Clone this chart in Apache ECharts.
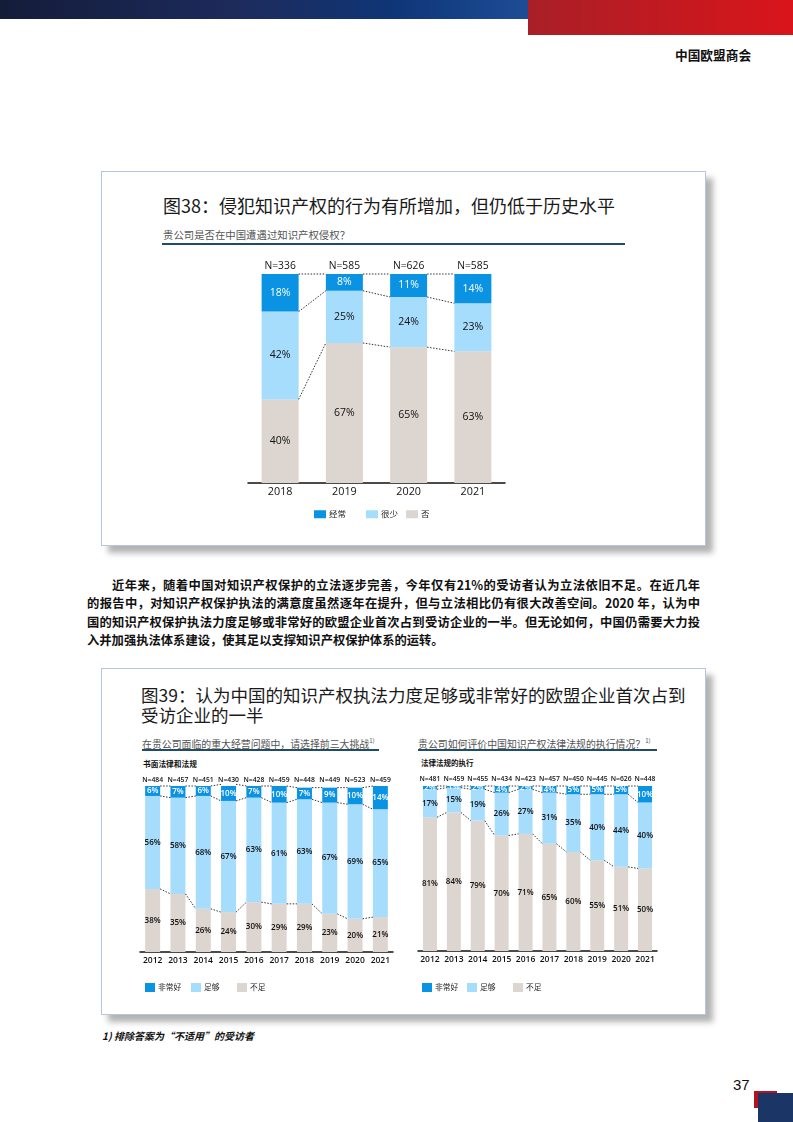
<!DOCTYPE html>
<html><head><meta charset="utf-8">
<script src="https://cdn.jsdelivr.net/npm/echarts@6/dist/echarts.min.js"></script>
<style>
html,body{margin:0;padding:0;background:#fff;}
#page{position:relative;width:793px;height:1122px;overflow:hidden;font-family:"Noto Sans CJK SC",sans-serif;color:#111;}
.abs{position:absolute;white-space:nowrap;}
#chart{position:absolute;left:0;top:0;width:793px;height:1122px;z-index:5;}
.panel{position:absolute;box-sizing:border-box;background:#fff;border:1px solid #b7c5dd;box-shadow:7px 7px 6px rgba(0,0,0,0.30);}
.para{position:absolute;left:87px;width:613px;font-size:12.3px;font-weight:700;line-height:18.3px;text-align:justify;text-align-last:justify;color:#111;}
sup{font-size:6px;vertical-align:5px;}
</style></head>
<body>
<div id="page">
  <div class="abs" style="left:0;top:0;width:528px;height:19px;background:linear-gradient(to right,#141c3a 0%,#1d2b5c 45%,#0f3677 75%,#1d4c96 100%);"></div>
  <div class="abs" style="left:528px;top:0;width:265px;height:35px;background:linear-gradient(to right,#a91f27,#d9151b);"></div>
  <div class="abs" style="left:675px;top:46px;font-size:12.7px;font-weight:700;line-height:18px;">中国欧盟商会</div>

  <div class="panel" style="left:101px;top:171px;width:605px;height:375px;"></div>
  <div class="abs" style="left:163px;top:193px;font-size:18px;line-height:24px;color:#1a1a1a;">图38：侵犯知识产权的行为有所增加，但仍低于历史水平</div>
  <div class="abs" style="left:163px;top:228px;font-size:10.4px;line-height:14px;color:#555;">贵公司是否在中国遭遇过知识产权侵权？</div>
  <div class="abs" style="left:162px;top:243px;width:463px;height:2px;background:#1f4c66;"></div>

  <div class="para" style="top:576px;text-indent:25px;">近年来，随着中国对知识产权保护的立法逐步完善，今年仅有21%的受访者认为立法依旧不足。在近几年</div>
  <div class="para" style="top:594.3px;">的报告中，对知识产权保护执法的满意度虽然逐年在提升，但与立法相比仍有很大改善空间。2020 年，认为中</div>
  <div class="para" style="top:612.6px;">国的知识产权保护执法力度足够或非常好的欧盟企业首次占到受访企业的一半。但无论如何，中国仍需要大力投</div>
  <div class="para" style="top:630.9px;text-align-last:left;">入并加强执法体系建设，使其足以支撑知识产权保护体系的运转。</div>

  <div class="panel" style="left:101px;top:668px;width:605px;height:347px;"></div>
  <div class="abs" style="left:141px;top:685px;font-size:17.5px;line-height:20px;color:#1a1a1a;">图39：认为中国的知识产权执法力度足够或非常好的欧盟企业首次占到<br>受访企业的一半</div>
  <div class="abs" style="left:142px;top:734px;font-size:9.9px;line-height:13px;color:#555;">在贵公司面临的重大经营问题中，请选择前三大挑战<sup>1)</sup></div>
  <div class="abs" style="left:142px;top:749px;width:237px;height:1.5px;background:#1f4c66;"></div>
  <div class="abs" style="left:418px;top:734px;font-size:9.9px;line-height:13px;color:#555;">贵公司如何评价中国知识产权法律法规的执行情况？<sup>1)</sup></div>
  <div class="abs" style="left:418px;top:749px;width:239px;height:1.5px;background:#1f4c66;"></div>
  <div class="abs" style="left:143px;top:758px;font-size:7.7px;line-height:12px;font-weight:700;">书面法律和法规</div>
  <div class="abs" style="left:421px;top:757px;font-size:7.5px;line-height:12px;font-weight:700;">法律法规的执行</div>

  <div class="abs" style="left:102px;top:1029px;font-size:10px;line-height:14px;font-weight:700;font-style:italic;">1) 排除答案为“不适用”的受访者</div>

  <div class="abs" style="left:733px;top:1076px;font-family:'Liberation Sans',Arial,sans-serif;font-size:15px;line-height:18px;color:#111;">37</div>
  <div class="abs" style="left:754px;top:1091px;width:23px;height:17px;background:#b3141c;"></div>
  <div class="abs" style="left:758px;top:1093px;width:35px;height:29px;background:#1b3566;"></div>

  <div id="chart"></div>
</div>
<script>
// ---------- Data ----------
const years38 = ['2018', '2019', '2020', '2021'];
const n38 = ['N=336', 'N=585', 'N=626', 'N=585'];
const often38 = [18, 8, 11, 14];     // 经常
const rarely38 = [42, 25, 24, 23];   // 很少
const never38 = [40, 67, 65, 63];    // 否

const years39 = ['2012', '2013', '2014', '2015', '2016', '2017', '2018', '2019', '2020', '2021'];
// 书面法律和法规
const nLaw = ['N=484', 'N=457', 'N=451', 'N=430', 'N=428', 'N=459', 'N=448', 'N=449', 'N=523', 'N=459'];
const veryGoodLaw = [6, 7, 6, 10, 7, 10, 7, 9, 10, 14];
const enoughLaw = [56, 58, 68, 67, 63, 61, 63, 67, 69, 65];
const lackLaw = [38, 35, 26, 24, 30, 29, 29, 23, 20, 21];
// 法律法规的执行
const nEnf = ['N=481', 'N=459', 'N=455', 'N=434', 'N=423', 'N=457', 'N=450', 'N=445', 'N=626', 'N=448'];
const veryGoodEnf = [2, 1, 2, 4, 2, 4, 5, 5, 5, 10];
const enoughEnf = [17, 15, 19, 26, 27, 31, 35, 40, 44, 40];
const lackEnf = [81, 84, 79, 70, 71, 65, 60, 55, 51, 50];

// ---------- Style ----------
const FONT = '"Open Sans","Noto Sans CJK SC",sans-serif';
const C_DARK = '#0a92e3', C_LIGHT = '#a6dcfc', C_BEIGE = '#ddd5cf';

function bars(name, data, color, gi, labelColor, fs, bw, fw) {
  return {
    name, type: 'bar', stack: 'g' + gi, xAxisIndex: gi * 2, yAxisIndex: gi,
    data, barWidth: bw, itemStyle: { color }, emphasis: { disabled: true }, z: 2,
    label: { show: true, position: 'inside', formatter: p => p.value + '%', color: labelColor,
      fontSize: fs, fontFamily: FONT, fontWeight: fw }
  };
}
function connectors(gi, bottom, mid, top, bw) {
  const levels = bottom.map((b, i) => [b, b + mid[i], b + mid[i] + top[i]]);
  return {
    type: 'custom', xAxisIndex: gi * 2, yAxisIndex: gi, silent: true, z: 3,
    data: bottom.map((b, i) => [i, 0]),
    renderItem(params, api) {
      const i = params.dataIndex;
      const children = [];
      if (i < levels.length - 1) {
        for (let k = 0; k < 3; k++) {
          const p1 = api.coord([i, levels[i][k]]);
          const p2 = api.coord([i + 1, levels[i + 1][k]]);
          children.push({ type: 'line', shape: { x1: p1[0] + bw / 2, y1: p1[1], x2: p2[0] - bw / 2, y2: p2[1] },
            style: { stroke: '#333', lineWidth: 1, lineDash: [1.5, 1.5] } });
        }
      }
      return { type: 'group', children };
    }
  };
}
function xAxes(gi, cats, nLabels, fsYear, fsN, mYear, mN, fwYear, fwN) {
  return [
    { type: 'category', gridIndex: gi, data: cats, position: 'bottom',
      axisLine: { lineStyle: { color: '#111', width: 1.5 } }, axisTick: { show: false },
      axisLabel: { interval: 0, hideOverlap: false, fontSize: fsYear, color: '#111', margin: mYear, fontFamily: FONT, fontWeight: fwYear } },
    { type: 'category', gridIndex: gi, data: nLabels, position: 'top',
      axisLine: { show: false }, axisTick: { show: false },
      axisLabel: { interval: 0, hideOverlap: false, fontSize: fsN, color: '#111', margin: mN, fontFamily: FONT, fontWeight: fwN } }
  ];
}
function leg(name, left, top, w, h, fs) {
  return { data: [name], left, top, itemWidth: w, itemHeight: h, itemGap: 0, padding: 0, icon: 'rect',
    selectedMode: false, textStyle: { fontSize: fs, color: '#222', fontFamily: FONT, padding: [0, 0, 0, -2] } };
}

const option = {
  animation: false,
  grid: [
    { left: 248, top: 274, width: 257, height: 209 },
    { left: 140, top: 786, width: 253, height: 166 },
    { left: 418, top: 786, width: 239, height: 165 }
  ],
  xAxis: [
    ...xAxes(0, years38, n38, 10.8, 10.3, 4, 3, 'normal', 'normal'),
    ...xAxes(1, years39, nLaw, 8.5, 6.8, 4.5, 3, 600, 600),
    ...xAxes(2, years39, nEnf, 8.5, 6.8, 4.5, 4, 600, 600)
  ],
  yAxis: [0, 1, 2].map(gi => ({ type: 'value', gridIndex: gi, min: 0, max: 100, show: false })),
  legend: [
    leg('经常', 314, 510, 12, 8, 8.5), leg('很少', 366, 510, 12, 8, 8.5), leg('否', 406, 510, 12, 8, 8.5),
    leg('非常好', 145, 983, 10, 9, 7.8), leg('足够', 191, 983, 10, 9, 7.8), leg('不足', 237, 983, 10, 9, 7.8),
    leg('非常好', 422, 983, 10, 9, 7.8), leg('足够', 467, 983, 10, 9, 7.8), leg('不足', 513, 983, 10, 9, 7.8)
  ],
  series: [
    bars('否', never38, C_BEIGE, 0, '#111', 10.5, 37, 'normal'),
    bars('很少', rarely38, C_LIGHT, 0, '#111', 10.5, 37, 'normal'),
    bars('经常', often38, C_DARK, 0, '#fff', 10.5, 37, 'normal'),
    connectors(0, never38, rarely38, often38, 37),

    bars('不足', lackLaw, C_BEIGE, 1, '#111', 8, 15, 600),
    bars('足够', enoughLaw, C_LIGHT, 1, '#111', 8, 15, 600),
    bars('非常好', veryGoodLaw, C_DARK, 1, '#fff', 8, 15, 600),
    connectors(1, lackLaw, enoughLaw, veryGoodLaw, 15),

    bars('不足', lackEnf, C_BEIGE, 2, '#111', 8, 14, 600),
    bars('足够', enoughEnf, C_LIGHT, 2, '#111', 8, 14, 600),
    bars('非常好', veryGoodEnf, C_DARK, 2, '#fff', 8, 14, 600),
    connectors(2, lackEnf, enoughEnf, veryGoodEnf, 14)
  ]
};
const chart = echarts.init(document.getElementById('chart'), null, { renderer: 'canvas' });
chart.setOption(option);
</script>
</body></html>
